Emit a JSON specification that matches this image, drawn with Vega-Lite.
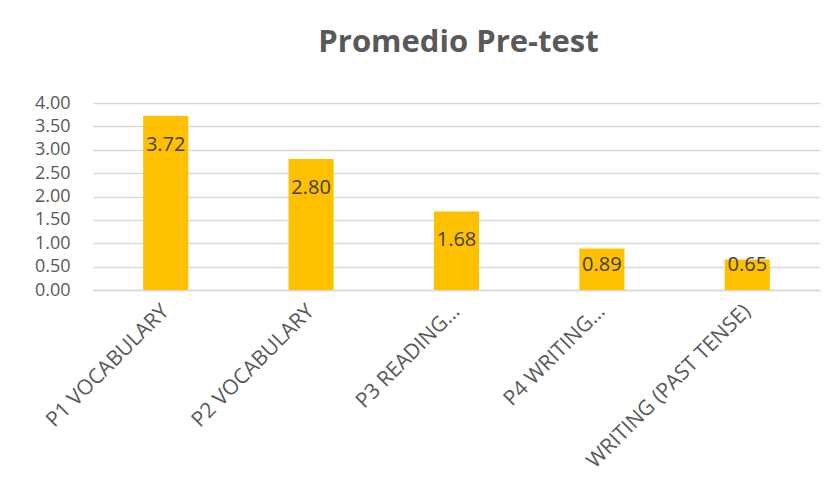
{
  "$schema": "https://vega.github.io/schema/vega-lite/v6.json",
  "width": 727,
  "height": 187,
  "autosize": {"type": "none"},
  "padding": {"left": 93, "top": 103, "right": 18, "bottom": 210},
  "background": "white",
  "title": {
    "text": "Promedio Pre-test",
    "font": "Open Sans",
    "fontSize": 31,
    "fontWeight": "bold",
    "color": "#595959",
    "anchor": "middle",
    "baseline": "alphabetic",
    "offset": 11,
    "dx": 2
  },
  "data": {
    "values": [
      {"pregunta": "P1 VOCABULARY", "promedio": 3.72},
      {"pregunta": "P2 VOCABULARY", "promedio": 2.80},
      {"pregunta": "P3 READING…", "promedio": 1.68},
      {"pregunta": "P4 WRITING…", "promedio": 0.89},
      {"pregunta": "WRITING (PAST TENSE)", "promedio": 0.65}
    ]
  },
  "encoding": {
    "x": {
      "field": "pregunta",
      "type": "nominal",
      "sort": null,
      "scale": {"paddingInner": 0.69, "paddingOuter": 0.345},
      "axis": {
        "title": null,
        "labelAngle": -45,
        "labelAlign": "right",
        "labelBaseline": "middle",
        "labelFont": "Open Sans",
        "labelFontSize": 21,
        "labelColor": "#595959",
        "labelPadding": 18,
        "labelLimit": 300,
        "ticks": false,
        "domainColor": "#d9d9d9",
        "domainWidth": 1.5,
        "grid": false
      }
    },
    "y": {
      "field": "promedio",
      "type": "quantitative",
      "scale": {"domain": [0, 4]},
      "axis": {
        "title": null,
        "values": [0, 0.5, 1, 1.5, 2, 2.5, 3, 3.5, 4],
        "format": ".2f",
        "labelFont": "Open Sans",
        "labelFontSize": 18,
        "labelColor": "#595959",
        "labelPadding": 23,
        "ticks": false,
        "domain": false,
        "gridColor": "#d9d9d9",
        "gridWidth": 1.5
      }
    }
  },
  "layer": [
    {"mark": {"type": "bar", "color": "#FFC000"}},
    {
      "transform": [{"filter": "datum.promedio >= 1.5"}],
      "mark": {"type": "text", "font": "Open Sans", "fontSize": 20, "color": "#404040", "baseline": "middle", "dy": 29},
      "encoding": {"text": {"field": "promedio", "type": "quantitative", "format": ".2f"}}
    },
    {
      "transform": [{"filter": "datum.promedio < 1.5"}],
      "mark": {"type": "text", "font": "Open Sans", "fontSize": 20, "color": "#404040", "baseline": "middle", "dy": -25},
      "encoding": {
        "y": {"datum": 0, "type": "quantitative"},
        "text": {"field": "promedio", "type": "quantitative", "format": ".2f"}
      }
    }
  ],
  "config": {"view": {"stroke": null}}
}
